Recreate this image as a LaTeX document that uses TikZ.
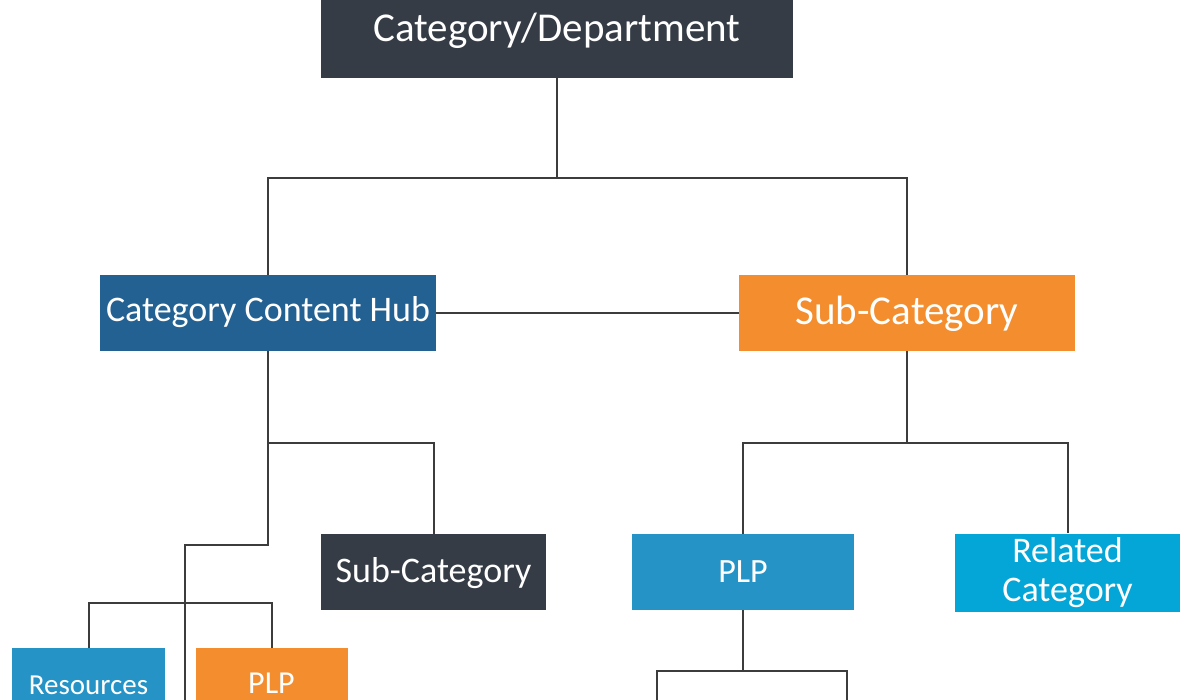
\documentclass[tikz,border=0pt]{standalone}
\usepackage{fontspec}
\setmainfont{Carlito}
\definecolor{cdark}{HTML}{353C45}
\definecolor{chub}{HTML}{236192}
\definecolor{corange}{HTML}{F38D2D}
\definecolor{cplp}{HTML}{2593C6}
\definecolor{crel}{HTML}{04A6D8}
\definecolor{cline}{HTML}{3C3C3C}
\tikzset{
  box/.style={draw=none, inner sep=0pt, text=white, align=center, anchor=center},
  conn/.style={draw=cline, line width=2pt},
}
\begin{document}
\begin{tikzpicture}[x=1pt,y=-1pt]
\useasboundingbox (0,0) rectangle (1200,700);
\clip (0,0) rectangle (1200,700);
\fill[white] (0,0) rectangle (1200,700);
% nodes
\node[box, fill=cdark, minimum width=472pt, minimum height=78pt, text height=36pt, text depth=30pt, font=\fontsize{41}{46}\selectfont] (top) at (557,39) {Category/Department};
\node[box, fill=chub, minimum width=336pt, minimum height=76pt, text height=43pt, text depth=25pt, font=\fontsize{36}{40}\selectfont] (hub) at (268,313) {Category Content Hub};
\node[box, fill=corange, minimum width=336pt, minimum height=76pt, text height=46pt, text depth=22pt, font=\fontsize{41}{46}\selectfont] (subo) at (907,313) {Sub-Category};
\node[box, fill=cdark, minimum width=225pt, minimum height=76pt, text height=44pt, text depth=24pt, font=\fontsize{36}{40}\selectfont] (subd) at (433.5,572) {Sub-Category};
\node[box, fill=cplp, minimum width=222pt, minimum height=76pt, text height=44pt, text depth=24pt, font=\fontsize{34}{40}\selectfont] (plp) at (743,572) {PLP};
\node[box, fill=crel, minimum width=225pt, minimum height=78pt, font=\fontsize{36}{39}\selectfont] (rel) at (1067.5,572.5) {Related\\Category};
\node[box, fill=cplp, minimum width=153pt, minimum height=76pt, text height=36pt, text depth=20pt, font=\fontsize{29}{34}\selectfont] (res) at (88.5,686) {Resources};
\node[box, fill=corange, minimum width=152pt, minimum height=76pt, text height=34pt, text depth=20pt, font=\fontsize{32}{36}\selectfont] (plpo) at (271.5,686) {PLP};
% junctions
\coordinate (j1) at (557,178);
\coordinate (j2) at (268,443);
\coordinate (j3) at (185,545);
\coordinate (j4) at (185,603);
\coordinate (e1) at (185,700);
\coordinate (j5) at (907,443);
\coordinate (j6) at (743,671);
\coordinate (e2) at (657,700);
\coordinate (e3) at (847,700);
% connectors
\draw[conn] (top.south) -- (j1);
\draw[conn] (hub.north) |- (j1) -| (subo.north);
\draw[conn] (hub.east) -- (subo.west);
\draw[conn] (hub.south) |- (j3) -- (e1);
\draw[conn] (j2) -| (subd.north);
\draw[conn] (res.north) |- (j4) -| (plpo.north);
\draw[conn] (subo.south) -- (j5);
\draw[conn] (plp.north) |- (j5) -| (rel.north);
\draw[conn] (plp.south) -- (j6);
\draw[conn] (e2) |- (j6) -| (e3);
\end{tikzpicture}
\end{document}
